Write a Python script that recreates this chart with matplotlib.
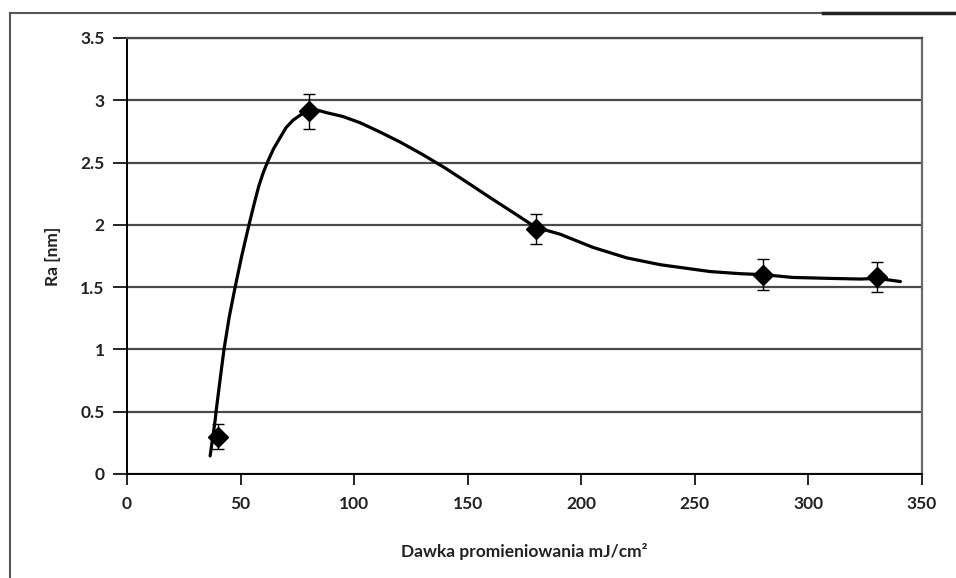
import matplotlib
matplotlib.use("Agg")
from matplotlib import pyplot as plt
from matplotlib.lines import Line2D

# measured points with error bars
dose = [40, 80, 180, 280, 330]
ra = [0.30, 2.91, 1.97, 1.60, 1.58]
ra_err = [0.10, 0.14, 0.12, 0.125, 0.12]

# smoothed curve
curve_x = [36.6, 38.8, 39.2, 41.0, 42.7, 45.0, 47.6, 50.5, 53.7, 56.0, 58.0, 60.0, 62.0,
           64.5, 67.4, 70.0, 73.1, 77.0, 80.6, 84.0, 88.0, 95.0, 102.6, 111.4, 120.0,
           130.0, 140.0, 150.0, 160.0, 170.0, 180.0, 190.7, 205.0, 220.0, 234.8,
           256.8, 270.0, 280.2, 293.0, 310.0, 322.8, 330.4, 340.5]
curve_y = [0.145, 0.43, 0.50, 0.76, 1.00, 1.26, 1.50, 1.75, 2.00, 2.17, 2.31, 2.42, 2.51,
           2.61, 2.70, 2.78, 2.84, 2.89, 2.92, 2.92, 2.90, 2.87, 2.82, 2.745, 2.667,
           2.566, 2.457, 2.338, 2.217, 2.099, 1.98, 1.925, 1.82, 1.735, 1.68,
           1.625, 1.608, 1.60, 1.578, 1.57, 1.565, 1.57, 1.545]

xticks = [0, 50, 100, 150, 200, 250, 300, 350]
yticks = [0, 0.5, 1, 1.5, 2, 2.5, 3, 3.5]
ytick_labels = ["0", "0.5", "1", "1.5", "2", "2.5", "3", "3.5"]

plt.rcParams['font.family'] = ['Lato', 'DejaVu Sans']

fig = plt.figure(figsize=(9.56, 5.78), dpi=100)
ax = fig.add_axes([127 / 956, 104 / 578, 795 / 956, 436 / 578])

ax.plot(curve_x, curve_y, color='black', lw=2.3, zorder=3,
        solid_joinstyle='round', solid_capstyle='round')
ax.errorbar(dose, ra, yerr=ra_err, fmt='D', color='black', ms=10.5,
            ecolor='black', elinewidth=1.0, capsize=4, capthick=1.0, zorder=4)

ax.set_xlim(0, 350)
ax.set_ylim(0, 3.5)
ax.set_xticks(xticks)
ax.set_yticks(yticks)
ax.set_yticklabels(ytick_labels)

ax.yaxis.grid(True, color='#4a4a4a', lw=1.6)
ax.set_axisbelow(True)

for lab in ax.get_xticklabels() + ax.get_yticklabels():
    lab.set_fontweight('bold')
    lab.set_fontsize(12.5)
    lab.set_color('#222222')

ax.tick_params(axis='x', direction='out', length=8, width=1.2, pad=8)
ax.tick_params(axis='y', direction='out', length=10, width=1.2, pad=6)

ax.spines['left'].set_color('black')
ax.spines['left'].set_linewidth(1.4)
ax.spines['bottom'].set_color('black')
ax.spines['bottom'].set_linewidth(1.4)
ax.spines['right'].set_color('#6a6a6a')
ax.spines['right'].set_linewidth(1.6)
ax.spines['top'].set_color('#4a4a4a')
ax.spines['top'].set_linewidth(1.6)

ax.set_xlabel("Dawka promieniowania mJ/cm²", fontsize=12.5, fontweight='bold',
              color='#222222', labelpad=22)
ax.set_ylabel("Ra [nm]", fontsize=12.5, fontweight='bold', color='#222222', labelpad=14)

# outer frame of the chart area
fig.add_artist(Line2D([10 / 956, 1.0], [1 - 13 / 578, 1 - 13 / 578],
                      transform=fig.transFigure, color='#555555', lw=1.5))
fig.add_artist(Line2D([823 / 956, 1.0], [1 - 13 / 578, 1 - 13 / 578],
                      transform=fig.transFigure, color='#222222', lw=2.5))
fig.add_artist(Line2D([10 / 956, 10 / 956], [0, 1 - 13 / 578],
                      transform=fig.transFigure, color='#555555', lw=1.5))

fig.savefig("out.png", dpi=100)
